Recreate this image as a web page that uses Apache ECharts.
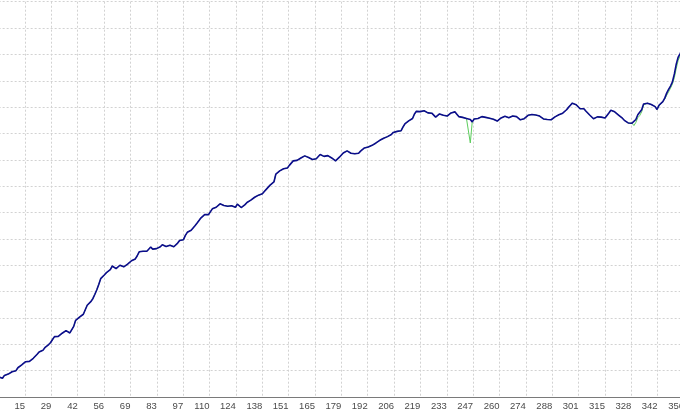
<!DOCTYPE html>
<html>
<head>
<meta charset="utf-8">
<script src="https://cdn.jsdelivr.net/npm/echarts@6/dist/echarts.min.js"></script>
<style>
html,body{margin:0;padding:0;background:#fff;}
#chart{width:680px;height:409px;}
</style>
</head>
<body>
<div id="chart"></div>
<script>
// x-axis tick labels (trade numbers)
const tickLabels = ['0','15','29','42','56','69','83','97','110','124','138','151','165','179','192','206','219','233','247','260','274','288','301','315','328','342','356'];
const lastTrade = 356;

// balance per trade (blue)
const balance = [
760,780,710,820,890,870,910,960,920,1000,
1110,1170,1220,1290,1340,1300,1350,1400,1470,1540,
1620,1710,1690,1770,1870,1920,1990,2070,2180,2290,
2280,2300,2360,2420,2470,2520,2470,2430,2490,2680,
2910,2980,3030,3100,3140,3150,3480,3550,3630,3740,
3900,4070,4270,4490,4530,4640,4720,4750,4830,4970,
4920,4870,4930,5000,5010,4940,4990,5040,5110,5170,
5150,5240,5360,5510,5540,5530,5580,5530,5590,5690,
5610,5570,5630,5670,5700,5780,5770,5710,5660,5760,
5770,5700,5750,5840,5940,5990,5970,6130,6250,6280,
6330,6400,6500,6590,6690,6790,6860,6920,6950,6920,
6990,7140,7140,7200,7260,7330,7280,7270,7270,7240,
7290,7260,7210,7200,7320,7260,7190,7220,7300,7380,
7430,7470,7520,7580,7650,7660,7640,7710,7800,7880,
7930,8040,8110,8160,8460,8530,8580,8630,8660,8600,
8690,8790,8860,8960,8990,8980,9020,9070,9120,9150,
9140,9090,9060,9010,9000,9040,9010,9200,9180,9130,
9110,9160,9130,9070,9020,8960,9010,9100,9160,9260,
9300,9340,9300,9250,9220,9230,9200,9250,9330,9380,
9450,9500,9490,9460,9550,9600,9640,9690,9740,9780,
9820,9860,9880,9840,9960,10040,10030,10080,10130,10100,
10240,10360,10420,10480,10520,10570,10740,10840,10860,10830,
10900,10860,10820,10780,10840,10770,10700,10620,10690,10740,
10770,10690,10630,10660,10720,10780,10850,10820,10730,10640,
10600,10610,10590,10570,10600,10530,10440,10550,10580,10570,
10610,10640,10630,10610,10590,10580,10560,10540,10520,10470,
10530,10590,10620,10650,10610,10600,10630,10660,10680,10640,
10590,10520,10490,10560,10630,10690,10650,10720,10710,10700,
10720,10660,10600,10550,10510,10530,10540,10520,10570,10630,
10680,10710,10680,10770,10840,10900,10990,11070,11150,11160,
11090,11020,10940,10890,10940,10850,10780,10700,10630,10560,
10520,10630,10600,10620,10640,10590,10550,10780,10880,10860,
10820,10760,10700,10640,10580,10500,10440,10400,10380,10390,
10340,10530,10710,10720,10900,11120,11170,11150,11130,11100,
11070,11020,10910,11070,11140,11210,11340,11530,11670,11800,
11960,12260,12640,12900,13030,13190
];

// equity per trade (green)
const equity = [
760,780,710,820,890,870,910,960,920,1000,
1110,1170,1220,1290,1340,1300,1350,1400,1470,1540,
1620,1710,1690,1770,1870,1920,1990,2070,2180,2290,
2280,2300,2360,2420,2470,2520,2470,2430,2490,2680,
2910,2980,3030,3100,3140,3150,3480,3550,3630,3740,
3900,4070,4270,4490,4530,4640,4720,4750,4830,4970,
4920,4870,4930,5000,5010,4940,4990,5040,5110,5170,
5150,5240,5360,5510,5540,5530,5580,5530,5590,5690,
5610,5570,5630,5670,5700,5780,5770,5710,5660,5760,
5770,5700,5750,5840,5940,5990,5970,6130,6250,6280,
6330,6400,6500,6590,6690,6790,6860,6920,6950,6920,
6990,7140,7140,7200,7260,7330,7280,7270,7270,7240,
7290,7260,7210,7200,7320,7260,7190,7220,7300,7380,
7430,7470,7520,7580,7650,7660,7640,7710,7800,7880,
7930,8040,8110,8160,8460,8530,8580,8630,8660,8600,
8690,8790,8860,8960,8990,8980,9020,9070,9120,9150,
9140,9090,9060,9010,9000,9040,9010,9200,9180,9130,
9110,9160,9130,9070,9020,8960,9010,9100,9160,9260,
9300,9340,9300,9250,9220,9230,9200,9250,9330,9380,
9450,9500,9490,9460,9550,9600,9640,9690,9740,9780,
9820,9860,9880,9840,9960,10040,10030,10080,10130,10100,
10240,10360,10420,10480,10520,10570,10740,10840,10860,10830,
10900,10860,10820,10780,10840,10770,10700,10620,10690,10740,
10770,10690,10630,10660,10720,10780,10850,10820,10730,10640,
10600,10610,10590,10570,10600,9640,10440,10550,10580,10570,
10610,10640,10630,10610,10590,10580,10560,10540,10520,10470,
10530,10590,10620,10650,10610,10600,10630,10660,10680,10640,
10590,10520,10490,10560,10630,10690,10650,10720,10710,10700,
10720,10660,10600,10550,10510,10530,10540,10520,10570,10630,
10680,10710,10680,10770,10840,10900,10990,11070,11150,11160,
11090,11020,10940,10890,10940,10850,10780,10700,10630,10560,
10520,10630,10600,10620,10640,10590,10550,10780,10880,10860,
10820,10760,10700,10640,10580,10500,10440,10400,10380,10390,
10300,10420,10600,10680,10820,11080,11150,11150,11130,11100,
11070,11020,10910,11040,11120,11190,11300,11450,11580,11720,
11880,12120,12480,12780,12950,13120
];

const step = lastTrade / (tickLabels.length - 1);
const balanceData = balance.map((v, i) => [i, v]);
const equityData = equity.map((v, i) => [i, v]);

const chart = echarts.init(document.getElementById('chart'), null, {renderer: 'canvas'});
const gridStyle = {color: '#d2d2d2', width: 1, type: [2, 2]};
chart.setOption({
  animation: false,
  backgroundColor: '#ffffff',
  grid: {left: -1.36, right: -4, top: 1.7, bottom: 12, containLabel: false, outerBoundsMode: 'none'},
  xAxis: {
    type: 'value', min: 0, max: lastTrade, interval: step,
    axisLine: {show: true, onZero: false, lineStyle: {color: '#7a7a7a', width: 1}},
    axisTick: {show: false},
    splitLine: {show: true, lineStyle: gridStyle},
    axisLabel: {
      align: 'right', margin: 4, color: '#4a4a4a', fontSize: 9.5,
      fontFamily: 'Liberation Sans', hideOverlap: false,
      formatter: function (v) { const k = Math.round(v / step); return tickLabels[k] || ''; }
    }
  },
  yAxis: {
    type: 'value', min: 0, max: 15000, interval: 1000,
    axisLine: {show: false}, axisTick: {show: false}, axisLabel: {show: false},
    splitLine: {show: true, lineStyle: gridStyle}
  },
  series: [
    {name: 'Equity', type: 'line', data: equityData, showSymbol: false, symbol: 'none',
     lineStyle: {color: '#5ccc5c', width: 1}, z: 2},
    {name: 'Balance', type: 'line', data: balanceData, showSymbol: false, symbol: 'none',
     lineStyle: {color: '#0c0c8c', width: 1.6}, z: 3}
  ]
});
</script>
</body>
</html>
